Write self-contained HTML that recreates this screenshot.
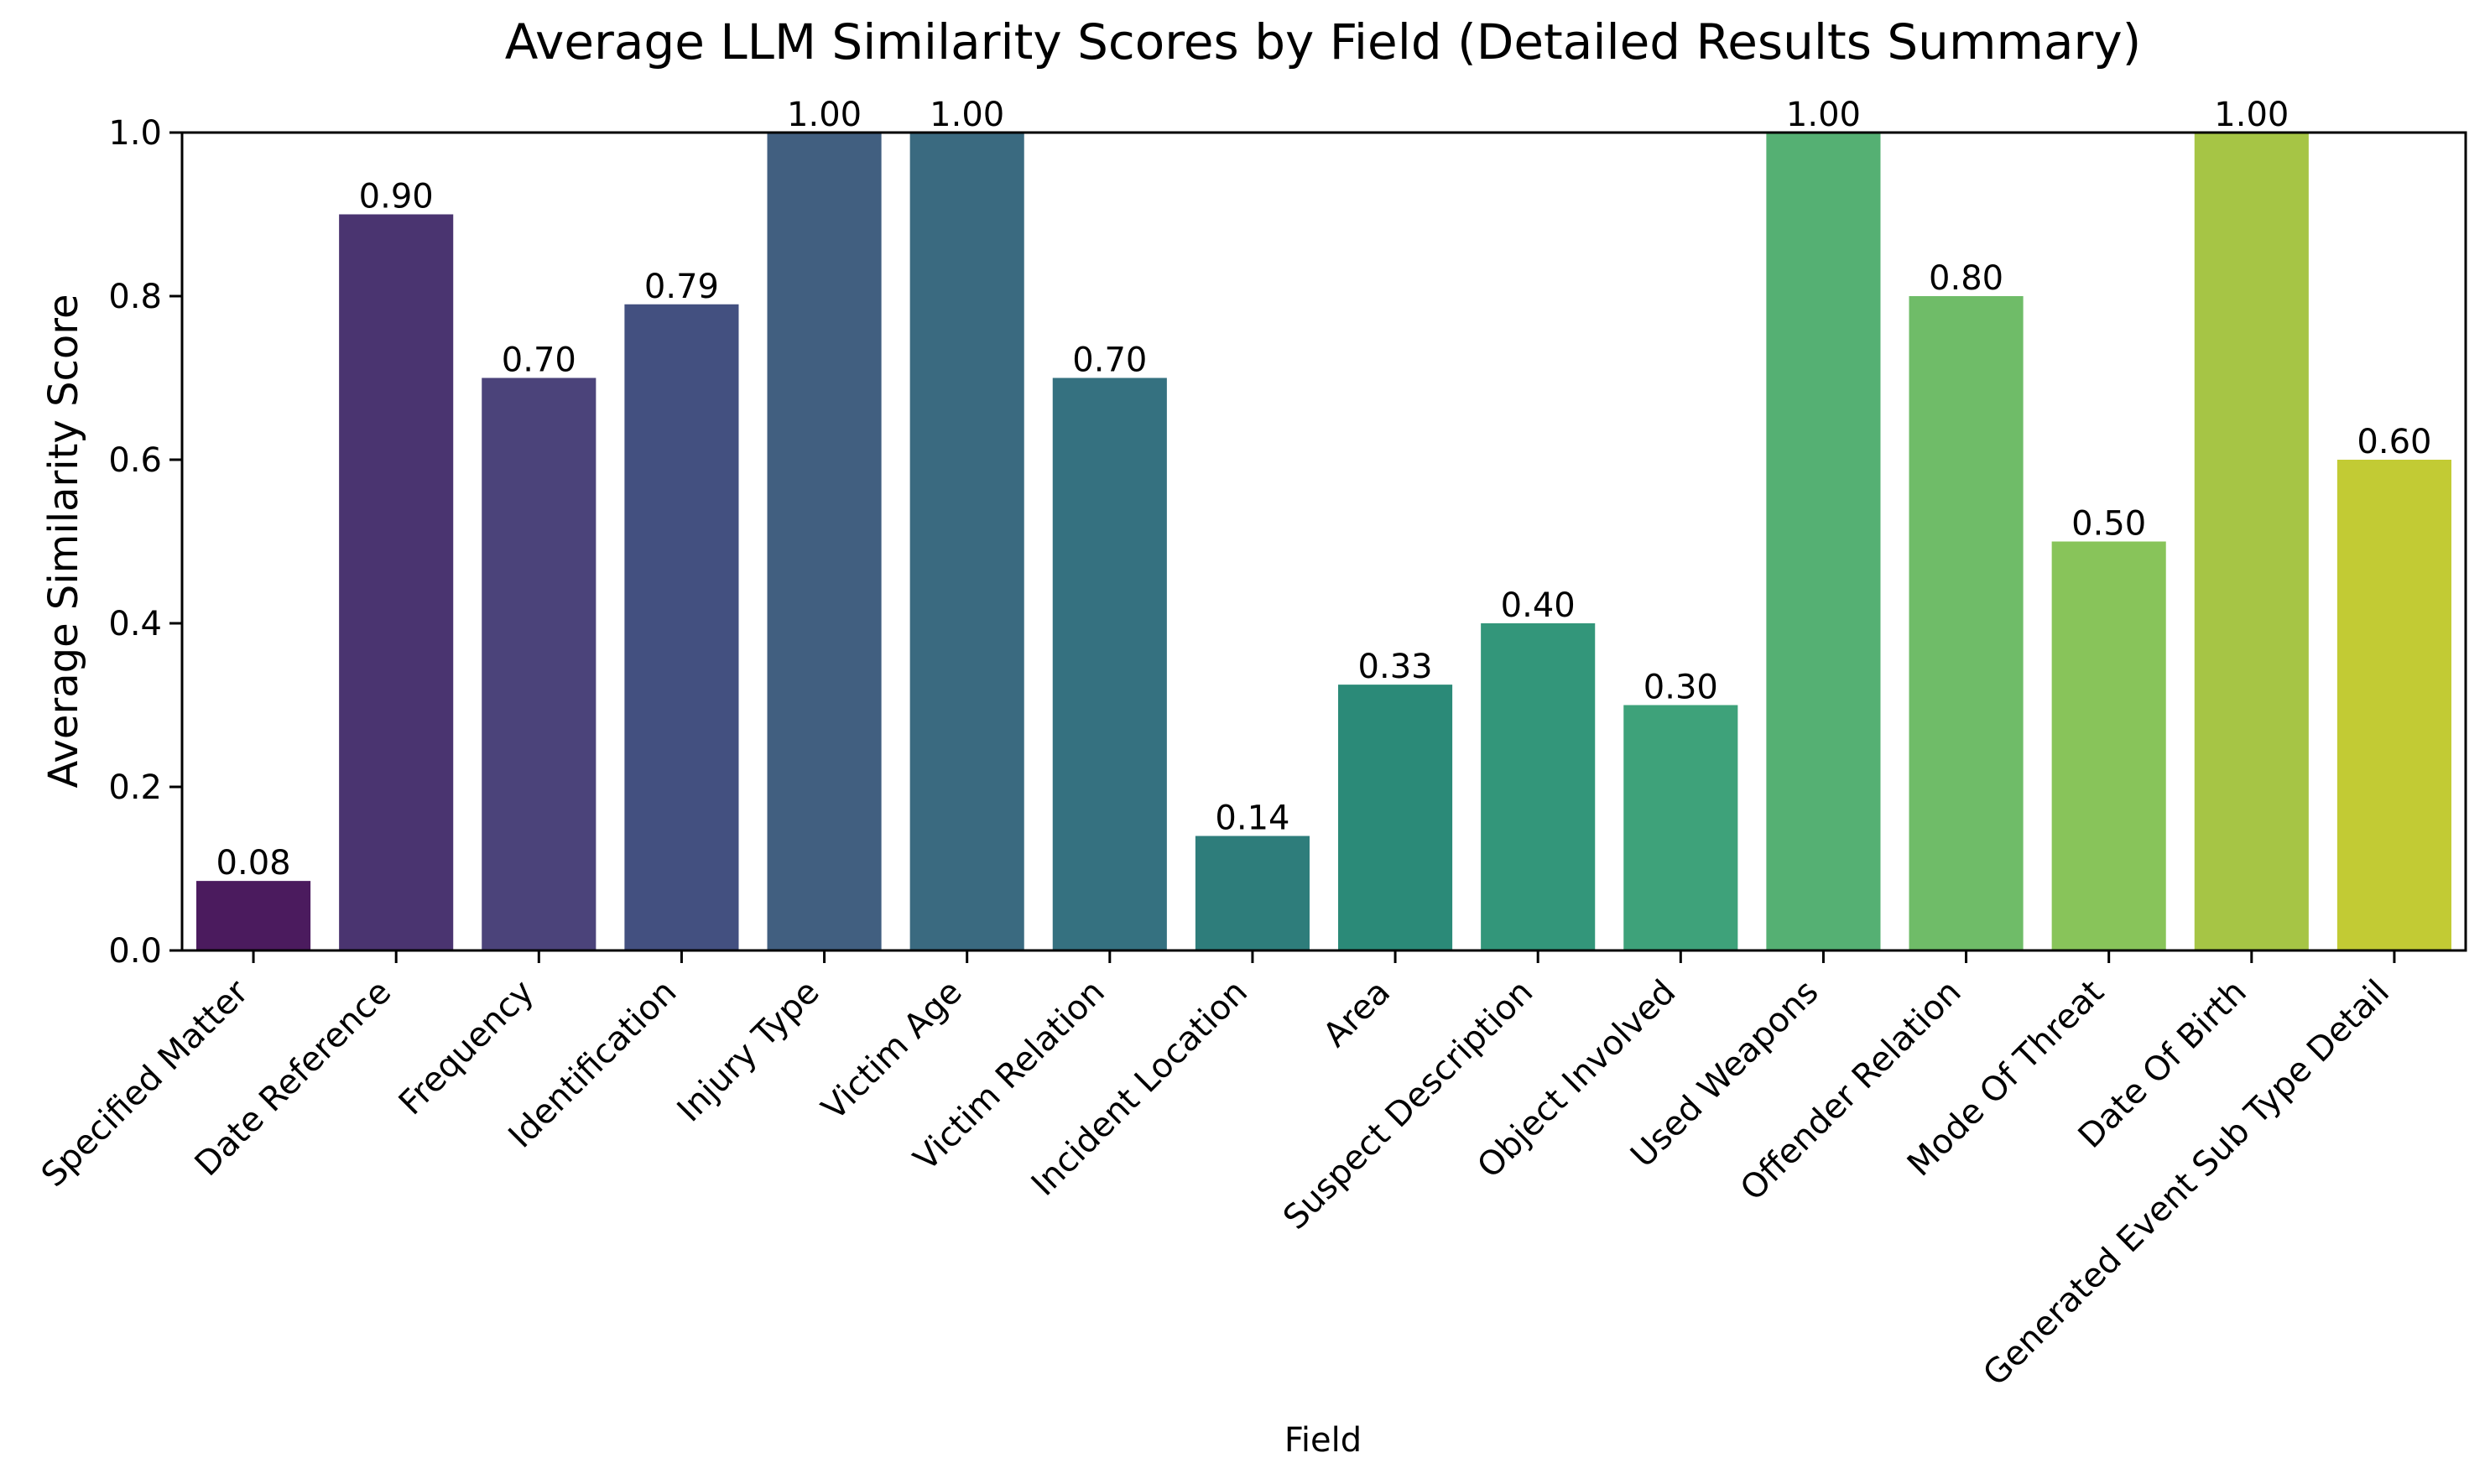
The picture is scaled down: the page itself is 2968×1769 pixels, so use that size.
<!DOCTYPE html>
<html><head><meta charset="utf-8"><style>body{margin:0;background:#fff}svg{display:block;font-family:"DejaVu Sans","Liberation Sans",sans-serif}</style></head>
<body>
<svg id="chart" width="2968" height="1769" viewBox="0 0 2968 1769" xmlns="http://www.w3.org/2000/svg">
<text x="1577" y="70" font-size="58" text-anchor="middle">Average LLM Similarity Scores by Field (Detailed Results Summary)</text>
<text transform="translate(92,645) rotate(-90)" font-size="48" text-anchor="middle">Average Similarity Score</text>
<text x="1577" y="1730" font-size="40" text-anchor="middle">Field</text>
<g id="bars"></g><g id="axes"></g>
</svg>
<script>
const categories=["Specified Matter","Date Reference","Frequency","Identification","Injury Type","Victim Age","Victim Relation","Incident Location","Area","Suspect Description","Object Involved","Used Weapons","Offender Relation","Mode Of Threat","Date Of Birth","Generated Event Sub Type Detail"];
const values=[0.085,0.9,0.7,0.79,1.0,1.0,0.7,0.14,0.325,0.4,0.3,1.0,0.8,0.5,1.0,0.6];
const valueLabels=["0.08","0.90","0.70","0.79","1.00","1.00","0.70","0.14","0.33","0.40","0.30","1.00","0.80","0.50","1.00","0.60"];
const colors=["#4b1b5e","#4a3470","#4b437a","#435080","#415f80","#3a6a80","#357180","#2e7d7b","#2b8a78","#33967a","#3ea27a","#55b073","#6fbc68","#88c45a","#a6c545","#c2cb34"];
const yTicks=[0,0.2,0.4,0.6,0.8,1.0];
const yTickLabels=["0.0","0.2","0.4","0.6","0.8","1.0"];
const L=217,R=2939,T=158,B=1133;
const NS="http://www.w3.org/2000/svg";
const step=(R-L)/categories.length;
const xc=i=>L+step*(i+0.5);
const y=v=>B-(B-T)*v;
function mk(tag,attrs,parent,txt){const e=document.createElementNS(NS,tag);for(const k in attrs)e.setAttribute(k,attrs[k]);if(txt!==undefined)e.textContent=txt;parent.appendChild(e);return e;}
const bars=document.getElementById('bars'),axes=document.getElementById('axes');
values.forEach((v,i)=>{
 const w=step*0.8;
 const r=mk('rect',{x:xc(i)-w/2,y:y(v),width:w,height:B-y(v),fill:colors[i]},bars);
 
 
 const t=mk('text',{x:xc(i),y:y(v)-8,'font-size':40,'text-anchor':'middle'},bars,valueLabels[i]);
 
 
 const tk=mk('line',{x1:xc(i),x2:xc(i),y1:B,y2:B+15,stroke:'#000','stroke-width':3},axes);
 
 
 const lb=mk('text',{transform:`translate(${xc(i)-4},${B+52}) rotate(-45)`,'font-size':40,'text-anchor':'end'},axes,categories[i]);
 
 
});
yTicks.forEach((v,i)=>{
 const tk=mk('line',{x1:L-15,x2:L,y1:y(v),y2:y(v),stroke:'#000','stroke-width':3},axes);
 
 
 const lb=mk('text',{x:L-24,y:y(v)+14,'font-size':40,'text-anchor':'end'},axes,yTickLabels[i]);
 
 
});
const fr=mk('rect',{x:L,y:T,width:R-L,height:B-T,fill:'none',stroke:'#000','stroke-width':3},axes);


</script>
</body></html>
